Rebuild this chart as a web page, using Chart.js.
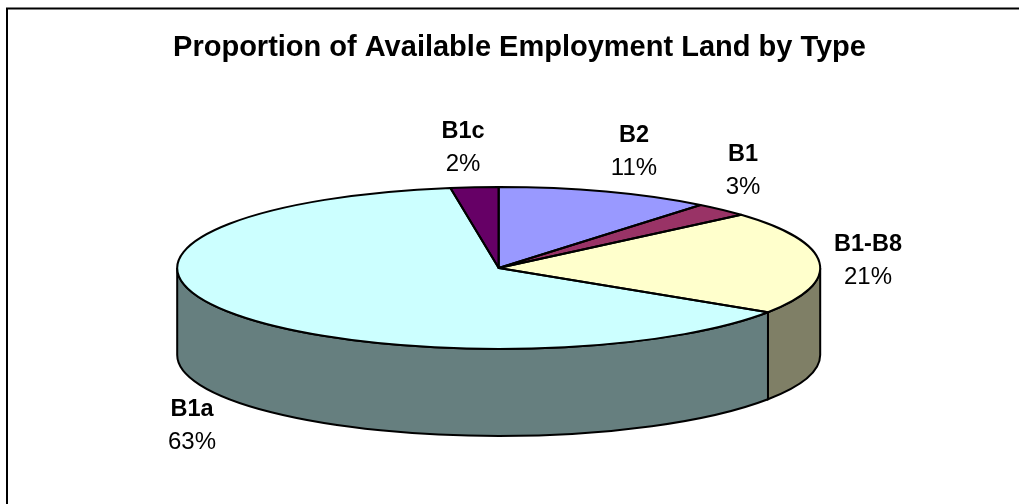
<!DOCTYPE html>
<html>
<head>
<meta charset="utf-8">
<title>Proportion of Available Employment Land by Type</title>
<script src="https://cdn.jsdelivr.net/npm/chart.js@4"></script>
<style>
	html, body { margin: 0; padding: 0; background: #fff; overflow: hidden; }
	canvas { display: block; }
</style>
</head>
<body>
<canvas id="chart" width="1019" height="504"></canvas>
<script>
const chartTitle = 'Proportion of Available Employment Land by Type';
const categories = ['B2', 'B1', 'B1-B8', 'B1a', 'B1c'];
const shares = [10.8, 2.8, 20.6, 63.4, 2.4];
const sliceColors = ['#9999FF', '#993366', '#FFFFCC', '#CCFFFF', '#660066'];

// where the flat pie ends up on the page
const pie = { cx: 498.7, cy: 268, rx: 321.5, ry: 81, depth: 87 };
// centre of each two-line label
const labelSpots = [[634, 136], [743, 155], [868, 245], [192, 410], [463, 132]];
const labelGap = 32;
const fontName = '"Liberation Sans", Arial, sans-serif';

function darken(hex) {
	let n = parseInt(hex.slice(1), 16);
	let r = (n >> 16) >> 1, g = ((n >> 8) & 255) >> 1, b = (n & 255) >> 1;
	return 'rgb(' + r + ',' + g + ',' + b + ')';
}

// the side wall only shows for the part of a slice in the front half
function drawWalls(ctx, arcs) {
	arcs.forEach(function(arc, i) {
		let from = Math.max(arc.startAngle, 0), to = Math.min(arc.endAngle, Math.PI);
		if (to <= from) return;
		ctx.beginPath();
		ctx.ellipse(pie.cx, pie.cy, pie.rx, pie.ry, 0, from, to);
		ctx.ellipse(pie.cx, pie.cy + pie.depth, pie.rx, pie.ry, 0, to, from, true);
		ctx.closePath();
		ctx.fillStyle = darken(sliceColors[i]);
		ctx.fill();
		ctx.stroke();
	});
}

const pie3d = {
	id: 'pie3d',
	beforeDraw(chart) {
		let ctx = chart.ctx;
		ctx.save();
		ctx.strokeStyle = '#000';
		ctx.lineWidth = 2;
		ctx.beginPath();
		ctx.moveTo(7, 504);
		ctx.lineTo(7, 8.5);
		ctx.lineTo(1019, 8.5);
		ctx.stroke();
		ctx.restore();
	},
	beforeDatasetsDraw(chart) {
		let ctx = chart.ctx;
		let arcs = chart.getDatasetMeta(0).data;
		ctx.save();
		ctx.strokeStyle = '#000';
		ctx.lineWidth = 2;
		drawWalls(ctx, arcs);
		ctx.restore();

		// squash the round pie the library draws into the ellipse
		let first = arcs[0];
		ctx.save();
		ctx.translate(pie.cx, pie.cy);
		ctx.scale(pie.rx / first.outerRadius, pie.ry / first.outerRadius);
		ctx.translate(-first.x, -first.y);
	},
	afterDatasetsDraw(chart) {
		let ctx = chart.ctx;
		ctx.restore();

		// outlines go on after the transform so the line width stays even
		ctx.save();
		ctx.strokeStyle = '#000';
		ctx.lineWidth = 2;
		ctx.lineJoin = 'round';
		chart.getDatasetMeta(0).data.forEach(function(arc) {
			ctx.beginPath();
			ctx.moveTo(pie.cx, pie.cy);
			ctx.ellipse(pie.cx, pie.cy, pie.rx, pie.ry, 0, arc.startAngle, arc.endAngle);
			ctx.closePath();
			ctx.stroke();
		});

		ctx.textAlign = 'center';
		ctx.textBaseline = 'middle';
		ctx.fillStyle = '#000';
		categories.forEach(function(name, i) {
			let x = labelSpots[i][0], y = labelSpots[i][1];
			ctx.font = 'bold 23.5px ' + fontName;
			ctx.fillText(name, x, y);
			ctx.font = '24px ' + fontName;
			ctx.fillText(Math.round(shares[i]) + '%', x, y + labelGap);
		});
		ctx.restore();
	}
};

new Chart(document.getElementById('chart'), {
	type: 'pie',
	data: {
		labels: categories,
		datasets: [{
			data: shares,
			backgroundColor: sliceColors,
			borderWidth: 0
		}]
	},
	options: {
		responsive: false,
		animation: false,
		layout: { padding: { left: 20, bottom: 155 } },
		plugins: {
			legend: { display: false },
			tooltip: { enabled: false },
			title: {
				display: true,
				text: chartTitle,
				color: '#000',
				font: { family: fontName, size: 29, weight: 'bold', lineHeight: 1.2 },
				padding: { top: 31, bottom: 121 }
			}
		}
	},
	plugins: [pie3d]
});
</script>
</body>
</html>
